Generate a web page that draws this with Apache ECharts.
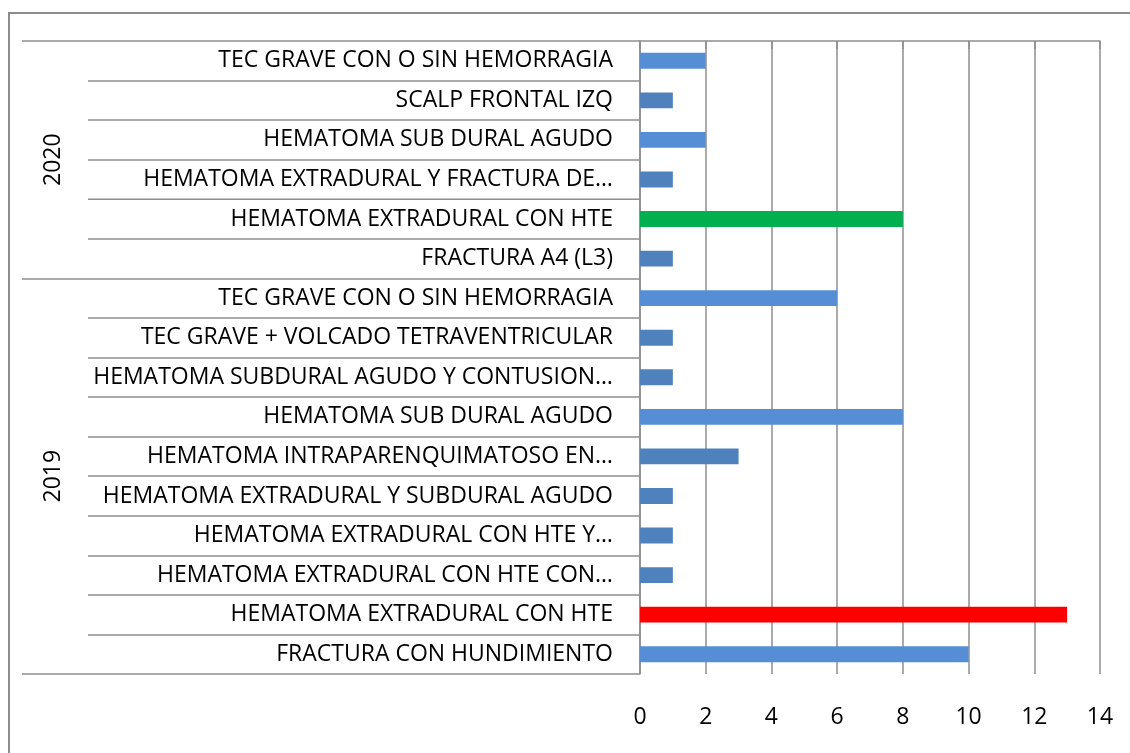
<!DOCTYPE html>
<html>
<head>
<meta charset="utf-8">
<script src="https://cdn.jsdelivr.net/npm/echarts@6/dist/echarts.min.js"></script>
<style>
  html, body { margin: 0; padding: 0; width: 1130px; height: 753px; overflow: hidden; background: #fff; }
  #frame { position: absolute; left: 8px; top: 12px; width: 1200px; height: 800px; border: 2px solid #8c8c8c; box-sizing: border-box; }
  #chart { position: absolute; left: 0; top: 0; width: 1130px; height: 753px; }
</style>
</head>
<body>
<div id="frame"></div>
<div id="chart"></div>
<script>
// Categories, top to bottom
const categories = [
  'TEC GRAVE CON O SIN HEMORRAGIA',
  'SCALP FRONTAL IZQ',
  'HEMATOMA SUB DURAL AGUDO',
  'HEMATOMA EXTRADURAL Y FRACTURA DE…',
  'HEMATOMA EXTRADURAL CON HTE',
  'FRACTURA A4 (L3)',
  'TEC GRAVE CON O SIN HEMORRAGIA',
  'TEC GRAVE + VOLCADO TETRAVENTRICULAR',
  'HEMATOMA SUBDURAL AGUDO Y CONTUSION…',
  'HEMATOMA SUB DURAL AGUDO',
  'HEMATOMA INTRAPARENQUIMATOSO EN…',
  'HEMATOMA EXTRADURAL Y SUBDURAL AGUDO',
  'HEMATOMA EXTRADURAL CON HTE Y…',
  'HEMATOMA EXTRADURAL CON HTE CON…',
  'HEMATOMA EXTRADURAL CON HTE',
  'FRACTURA CON HUNDIMIENTO'
];
const groups = ['2020', '2019'];
const groupSizes = [6, 10];
const values = [2, 1, 2, 1, 8, 1, 6, 1, 1, 8, 3, 1, 1, 1, 13, 10];
const xTicks = { min: 0, max: 14, interval: 2 };

// Styles (kept separate from data)
const LIGHT = '#558ED5', DARK = '#4F81BD', GREEN = '#00B050', RED = '#FF0000';
const barColors = [LIGHT, DARK, LIGHT, DARK, GREEN, DARK, LIGHT, DARK, DARK, LIGHT, DARK, DARK, DARK, DARK, RED, LIGHT];

const FONT = 'Open Sans';
const FS = 23;
const lineColor = '#8e8e8e';

// group boundaries and centres in row units
const bounds = [0];
groupSizes.forEach(s => bounds.push(bounds[bounds.length - 1] + s));
const centres = groupSizes.map((s, i) => bounds[i] + s / 2);
const totalRows = bounds[bounds.length - 1];

const chart = echarts.init(document.getElementById('chart'), null, { renderer: 'canvas' });
chart.setOption({
  animation: false,
  backgroundColor: 'transparent',
  textStyle: { fontFamily: FONT },
  grid: { left: 640, right: 30, top: 41, bottom: 79, containLabel: false },
  xAxis: {
    type: 'value',
    min: xTicks.min, max: xTicks.max, interval: xTicks.interval,
    axisLine: { show: true, lineStyle: { color: lineColor, width: 1.5 } },
    axisTick: { show: true, length: 8, lineStyle: { color: lineColor, width: 1.5 } },
    splitLine: { show: true, lineStyle: { color: lineColor, width: 1.5 } },
    axisLabel: { color: '#000', fontFamily: FONT, fontSize: FS, margin: 32 }
  },
  yAxis: [
    {
      type: 'category',
      inverse: true,
      data: categories,
      boundaryGap: true,
      axisLine: { show: true, lineStyle: { color: lineColor, width: 1.5 } },
      axisTick: { show: true, length: 552, alignWithLabel: false, lineStyle: { color: lineColor, width: 1.5 } },
      axisLabel: { color: '#000', fontFamily: FONT, fontSize: FS, margin: 27, overflow: 'none' },
      splitLine: { show: false }
    },
    {
      type: 'value',
      inverse: true,
      min: 0, max: totalRows,
      position: 'left',
      axisLine: { show: false },
      splitLine: { show: false },
      axisTick: { show: true, length: 618, customValues: bounds, lineStyle: { color: lineColor, width: 1.5 } },
      axisLabel: {
        show: true,
        customValues: centres,
        rotate: 90,
        margin: 575,
        color: '#000', fontFamily: FONT, fontSize: FS,
        formatter: function (v) {
          const i = centres.indexOf(v);
          return i >= 0 ? groups[i] : '';
        }
      }
    }
  ],
  series: [{
    type: 'bar',
    yAxisIndex: 0,
    barWidth: '40%',
    data: values.map((v, i) => ({ value: v, itemStyle: { color: barColors[i] } }))
  }]
});
</script>
</body>
</html>
